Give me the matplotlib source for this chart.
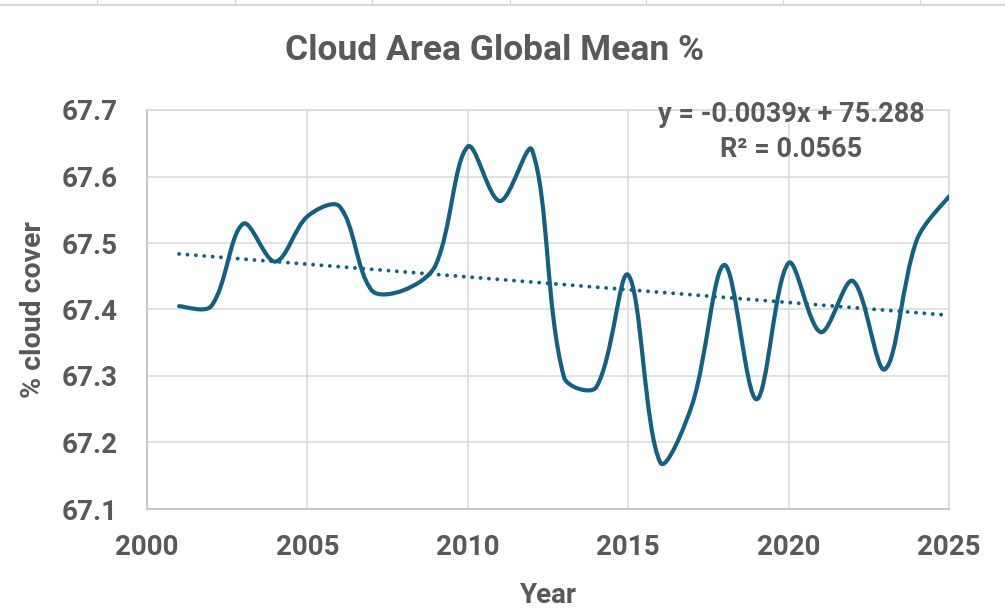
import numpy as np
import matplotlib
matplotlib.use("Agg")
import matplotlib.pyplot as plt
from matplotlib.path import Path
from matplotlib.patches import PathPatch
from matplotlib.lines import Line2D

# 数据
years = [2001, 2002, 2003, 2004, 2005, 2006, 2007, 2008, 2009, 2010, 2011, 2012, 2013,
         2014, 2015, 2016, 2017, 2018, 2019, 2020, 2021, 2022, 2023, 2024, 2025]
cloud = [67.405, 67.405, 67.529, 67.472, 67.540, 67.555, 67.429, 67.429, 67.467, 67.645,
         67.563, 67.640, 67.298, 67.283, 67.452, 67.170, 67.258, 67.467, 67.265, 67.470,
         67.366, 67.443, 67.310, 67.505, 67.570]
x_ticks = [2000, 2005, 2010, 2015, 2020, 2025]
y_ticks = [67.1, 67.2, 67.3, 67.4, 67.5, 67.6, 67.7]
eq_text = "y = -0.0039x + 75.288"
r2_text = "R² = 0.0565"

line_color = "#156082"
text_color = "#595959"
grid_color = "#d9d9d9"

plt.rcParams['font.family'] = ["Roboto", "DejaVu Sans"]


def smooth_path(ax, xs, ys):
    # Excel 风格的平滑曲线：控制点长度按屏幕上的弦长分配
    pts = ax.transData.transform(np.column_stack([xs, ys]))
    n = len(pts)
    seg = np.hypot(*(pts[1:] - pts[:-1]).T)
    verts = [pts[0]]
    codes = [Path.MOVETO]
    for i in range(n - 1):
        i0 = max(i - 1, 0)
        i3 = min(i + 2, n - 1)
        l_prev = seg[i - 1] if i > 0 else seg[i]
        l_next = seg[i + 1] if i + 1 < n - 1 else seg[i]
        c1 = pts[i] + (pts[i + 1] - pts[i0]) * seg[i] / (l_prev + seg[i]) / 3
        c2 = pts[i + 1] - (pts[i3] - pts[i]) * seg[i] / (seg[i] + l_next) / 3
        verts += [c1, c2, pts[i + 1]]
        codes += [Path.CURVE4] * 3
    verts = ax.transData.inverted().transform(np.array(verts))
    return Path(verts, codes)


fig = plt.figure(figsize=(10.05, 6.12), dpi=100)
ax = fig.add_axes([147 / 1005, 1 - 509 / 612, 802 / 1005, 399 / 612])
ax.set_xlim(2000, 2025)
ax.set_ylim(67.1, 67.7)

ax.add_patch(PathPatch(smooth_path(ax, years, cloud), facecolor="none", edgecolor=line_color,
                       lw=3.0, capstyle="round", joinstyle="round", zorder=3))

# 线性趋势线
coef = np.polyfit(years, cloud, 1)
ax.plot([years[0], years[-1]], np.polyval(coef, [years[0], years[-1]]), color=line_color,
        lw=2.8, linestyle=(0, (0.01, 2.15)), dash_capstyle="round", zorder=2)

ax.set_xticks(x_ticks)
ax.set_yticks(y_ticks)
ax.set_xticklabels([str(t) for t in x_ticks])
ax.set_yticklabels([f"{t:.1f}" for t in y_ticks])
ax.tick_params(length=0, labelsize=20, colors=text_color)
ax.tick_params(axis='y', pad=21)
ax.tick_params(axis='x', pad=18)
for lab in ax.get_xticklabels() + ax.get_yticklabels():
    lab.set_fontweight("bold")

ax.grid(True, color=grid_color, lw=1.1)
ax.set_axisbelow(True)
for side in ["top", "right"]:
    ax.spines[side].set_color(grid_color)
    ax.spines[side].set_linewidth(1.1)
for side in ["left", "bottom"]:
    ax.spines[side].set_color("#c8c8c8")
    ax.spines[side].set_linewidth(1.5)

ax.set_xlabel("Year", fontsize=20, fontweight="bold", color=text_color, va="center")
ax.xaxis.set_label_coords(0.5, -0.218)
ax.set_ylabel("% cloud cover", fontsize=20.5, fontweight="bold", color=text_color, va="center")
ax.yaxis.set_label_coords(-0.142, 0.5)

fig.text(495 / 1005, 1 - 51 / 612, "Cloud Area Global Mean %", fontsize=25.5, fontweight="bold",
         color=text_color, ha="center", va="center")

ax.text(0.803, 0.9875, eq_text, transform=ax.transAxes, fontsize=19.5, fontweight="bold",
        color=text_color, ha="center", va="center")
ax.text(0.803, 0.90, r2_text, transform=ax.transAxes, fontsize=19.5, fontweight="bold",
        color=text_color, ha="center", va="center")

# 顶部表格线
fig.add_artist(Line2D([0, 1], [1 - 5 / 612, 1 - 5 / 612], color=grid_color, lw=1.5))
for cx in [97, 235, 372, 510, 646, 783, 920]:
    fig.add_artist(Line2D([cx / 1005, cx / 1005], [1 - 5 / 612, 1], color=grid_color, lw=1.0))

fig.savefig("out.png", dpi=100)
